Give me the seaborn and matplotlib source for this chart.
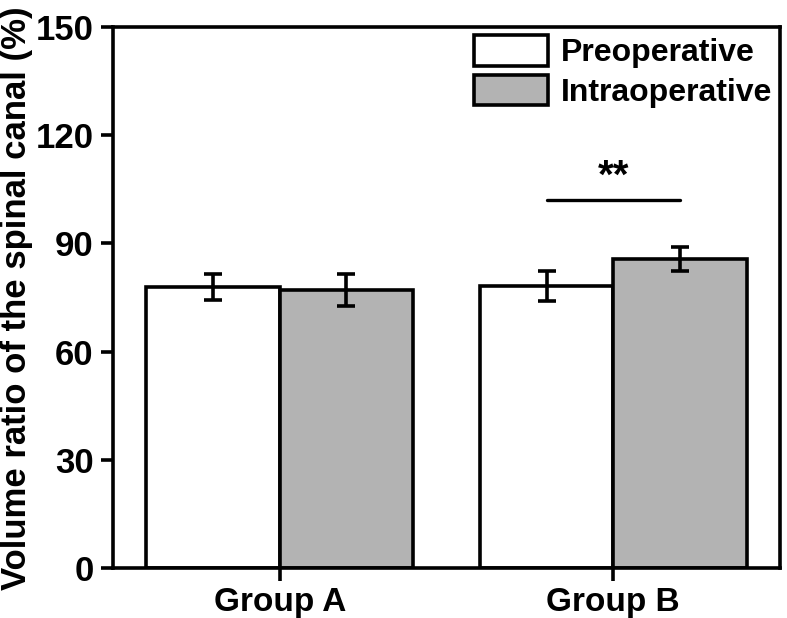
import matplotlib
matplotlib.use("Agg")
import matplotlib.pyplot as plt
import seaborn as sns
import pandas as pd
import numpy as np

groups = ["Group A", "Group B"]
phases = ["Preoperative", "Intraoperative"]
pre_means = [78.0, 78.2]
pre_sd = [3.6, 4.2]
intra_means = [77.1, 85.7]
intra_sd = [4.4, 3.4]
sig_y = 102.2
sig_text = "**"

sns.set_theme(style="white")
plt.rcParams['font.family'] = ['Liberation Sans', 'DejaVu Sans']
plt.rcParams['font.weight'] = 'bold'
plt.rcParams['text.color'] = 'black'
plt.rcParams['axes.labelcolor'] = 'black'

df = pd.DataFrame({
    "group": groups * 2,
    "phase": [phases[0]] * 2 + [phases[1]] * 2,
    "value": pre_means + intra_means,
    "sd": pre_sd + intra_sd,
})

fig = plt.figure(figsize=(7.87, 6.18), dpi=100)
ax = fig.add_axes([0.1436, 0.081, 0.991 - 0.1436, 0.956 - 0.081])

sns.barplot(data=df, x="group", y="value", hue="phase", order=groups,
            hue_order=phases, palette=["#ffffff", "#b3b3b3"], errorbar=None,
            edgecolor="black", linewidth=2.6, width=0.8, ax=ax, saturation=1)

# error bars
for i, ph in enumerate(phases):
    sub = df[df.phase == ph].set_index("group").loc[groups]
    offs = -0.2 if i == 0 else 0.2
    xs = np.arange(len(groups)) + offs
    ax.errorbar(xs, sub["value"].values, yerr=sub["sd"].values, fmt="none",
                ecolor="black", elinewidth=2.6, capsize=6.5, capthick=2.6, zorder=5)

# significance
ax.plot([0.8, 1.2], [sig_y, sig_y], color="black", lw=2.4)
ax.text(1.0, sig_y + 1.0, sig_text, ha="center", va="bottom", fontsize=29, fontweight="bold")

ax.set_ylim(0, 150)
ax.set_xlim(-0.5, 1.5)
ax.set_yticks([0, 30, 60, 90, 120, 150])
ax.set_xlabel("")
ax.set_ylabel("Volume ratio of the spinal canal (%)", fontsize=25, fontweight="bold",
              va="center", ha="center")
ax.yaxis.set_label_coords(-0.144, 0.499)
ax.tick_params(axis="both", which="both", direction="out", length=9, width=2.6,
               color="black", labelcolor="black", pad=5)
ax.tick_params(axis="y", left=True, labelsize=25)
ax.tick_params(axis="x", bottom=True, labelsize=24)
for lab in ax.get_xticklabels() + ax.get_yticklabels():
    lab.set_fontweight("bold")
for sp in ax.spines.values():
    sp.set_visible(True)
    sp.set_color("black")
    sp.set_linewidth(2.6)

leg = ax.legend(loc="upper right", frameon=False, fontsize=23, handlelength=2.3,
                handleheight=1.1, handletextpad=0.4, labelspacing=0.2,
                borderaxespad=0.05, borderpad=0.2)
for h in leg.legend_handles:
    h.set_edgecolor("black")
    h.set_linewidth(2.6)
for t in leg.get_texts():
    t.set_fontweight("bold")

fig.savefig("out.png", dpi=100)
